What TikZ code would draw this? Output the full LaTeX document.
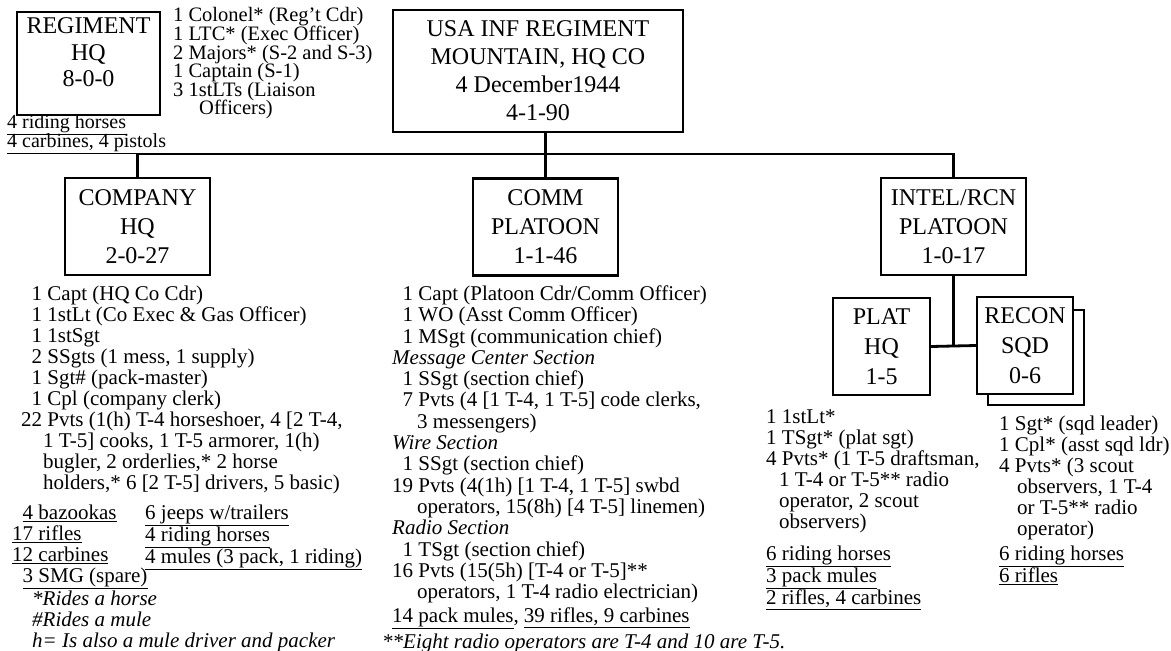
\documentclass[tikz,border=0pt]{standalone}
\usepackage{fontspec}
\setmainfont{Liberation Serif}
\usepackage{tikz}
\usetikzlibrary{positioning}

\begin{document}
\begin{tikzpicture}[
  x=1pt, y=-1pt,
  unit/.style={
    rectangle, draw, line width=2.2pt, fill=white,
    inner sep=0pt, align=center,
    font=\fontsize{24}{28}\selectfont},
  bigunit/.style={unit, minimum width=145pt, minimum height=97pt,
    font=\fontsize{24}{29}\selectfont},
  smallunit/.style={unit, minimum width=97pt, minimum height=97pt,
    font=\fontsize{24}{30}\selectfont},
  lst/.style={
    anchor=north west, inner sep=0pt, align=left,
    font=\fontsize{21}{21}\selectfont},
  tightlst/.style={lst,
    font={\fontsize{20.5}{18.6}\selectfont\lineskiplimit=-30pt}},
  note/.style={lst, font=\fontsize{21}{21}\selectfont\itshape},
  conn/.style={line width=2.8pt},
]
\useasboundingbox (0,0) rectangle (1171,651);

%% ---- Boxes ----
\node[unit, minimum width=143pt, minimum height=103pt, line width=2.6pt,
      font=\fontsize{24}{26.5}\selectfont]
                 (rhq)   at (88.5, 63.5) {REGIMENT\\HQ\\8-0-0\\[-4.5pt]~};
\node[unit, minimum width=290pt, minimum height=122pt]
                 (top)   at (538,  71  ) {USA INF REGIMENT\\MOUNTAIN, HQ CO\\
                                          4 December1944\\4-1-90};
\node[bigunit]   (co)    at (137.5, 226.5) {COMPANY\\HQ\\2-0-27};
\node[bigunit]   (comm)  at (545.5, 227  ) {COMM\\PLATOON\\1-1-46};
\node[bigunit]   (intel) at (953.5, 226.5) {INTEL/RCN\\PLATOON\\1-0-17};
\node[smallunit] (plat)  at (881.5, 346.5) {PLAT\\HQ\\1-5};
\node[smallunit, minimum width=96pt, minimum height=95pt]
                 (recback) at (1036, 357.5) {};
\node[smallunit, minimum width=96pt]
                 (recon) at (1025, 345.5) {RECON\\SQD\\0-6};

%% ---- Connectors ----
\coordinate (bus) at (545.5, 154);
\draw[conn] (bus) -- (bus |- top.south);
\draw[conn] (co.north) |- (bus) -| (intel.north);
\draw[conn] (comm.north) -- (comm.north |- bus);
\draw[conn] (intel.south) -- (intel.south |- plat.east);
\draw[conn] (plat.east) -- (recon.west);

%% ---- Regiment HQ ----
\node[tightlst] (rhqlist) at (173, 7.5)
  {1 Colonel* (Reg’t Cdr)\\
   1 LTC* (Exec Officer)\\
   2 Majors* (S-2 and S-3)\\
   1 Captain (S-1)\\
   3 1stLTs (Liaison\\
   \hspace*{26pt}Officers)};
\node[tightlst, font={\fontsize{20}{18.6}\selectfont\lineskiplimit=-30pt}]
      (rhqeq) at (7, 114.5)
  {\underline{4 riding horses}\\
   \underline{4 carbines, 4 pistols}};

%% ---- Company HQ ----
\node[lst] (colist) at (21, 285.5)
  {\phantom{2}1 Capt (HQ Co Cdr)\\
   \phantom{2}1 1stLt (Co Exec \& Gas Officer)\\
   \phantom{2}1 1stSgt\\
   \phantom{2}2 SSgts (1 mess, 1 supply)\\
   \phantom{2}1 Sgt\# (pack-master)\\
   \phantom{2}1 Cpl (company clerk)\\
   22 Pvts (1(h) T-4 horseshoer, 4 [2 T-4,\\
   \hspace*{22pt}1 T-5] cooks, 1 T-5 armorer, 1(h)\\
   \hspace*{22pt}bugler, 2 orderlies,* 2 horse\\
   \hspace*{22pt}holders,* 6 [2 T-5] drivers, 5 basic)};
\node[lst] (coeq) at (12, 504.5)
  {\phantom{1}\underline{4 bazookas}\\
   \underline{17 rifles}\\
   \underline{12 carbines}\\
   \phantom{1}\underline{3 SMG (spare)}};
\node[lst] (coeqr) at (145, 504.5)
  {\underline{6 jeeps w/trailers}\\
   \underline{4 riding horses}\\
   \underline{4 mules (3 pack, 1 riding)}};
\node[note] (conote) at (32, 590.5)
  {*Rides a horse\\
   \#Rides a mule\\
   h= Is also a mule driver and packer};

%% ---- Comm platoon ----
\node[lst, font=\fontsize{21}{21.3}\selectfont] (commlist) at (392, 285.5)
  {\phantom{1}1 Capt (Platoon Cdr/Comm Officer)\\
   \phantom{1}1 WO (Asst Comm Officer)\\
   \phantom{1}1 MSgt (communication chief)\\
   \textit{Message Center Section}\\
   \phantom{1}1 SSgt (section chief)\\
   \phantom{1}7 Pvts (4 [1 T-4, 1 T-5] code clerks,\\
   \hspace*{25pt}3 messengers)\\
   \textit{Wire Section}\\
   \phantom{1}1 SSgt (section chief)\\
   19 Pvts (4(1h) [1 T-4, 1 T-5] swbd\\
   \hspace*{25pt}operators, 15(8h) [4 T-5] linemen)\\
   \textit{Radio Section}\\
   \phantom{1}1 TSgt (section chief)\\
   16 Pvts (15(5h) [T-4 or T-5]**\\
   \hspace*{25pt}operators, 1 T-4 radio electrician)};
\node[lst] (commeq) at (392, 607.5)
  {\underline{14 pack mules}, \underline{39 rifles, 9 carbines}};
\node[note] (commnote) at (382, 633.5)
  {**Eight radio operators are T-4 and 10 are T-5.};

%% ---- Intel/recon platoon ----
\node[lst] (platlist) at (766, 409.5)
  {1 1stLt*\\
   1 TSgt* (plat sgt)\\
   4 Pvts* (1 T-5 draftsman,\\
   \hspace*{13pt}1 T-4 or T-5** radio\\
   \hspace*{13pt}operator, 2 scout\\
   \hspace*{13pt}observers)};
\node[lst] (plateq) at (766, 545.5)
  {\underline{6 riding horses}\\
   \underline{3 pack mules}\\
   \underline{2 rifles, 4 carbines}};
\node[lst] (reclist) at (999, 415.5)
  {1 Sgt* (sqd leader)\\
   1 Cpl* (asst sqd ldr)\\
   4 Pvts* (3 scout\\
   \hspace*{18pt}observers, 1 T-4\\
   \hspace*{18pt}or T-5** radio\\
   \hspace*{18pt}operator)};
\node[lst] (receq) at (999, 545.5)
  {\underline{6 riding horses}\\
   \underline{6 rifles}};

\end{tikzpicture}
\end{document}
